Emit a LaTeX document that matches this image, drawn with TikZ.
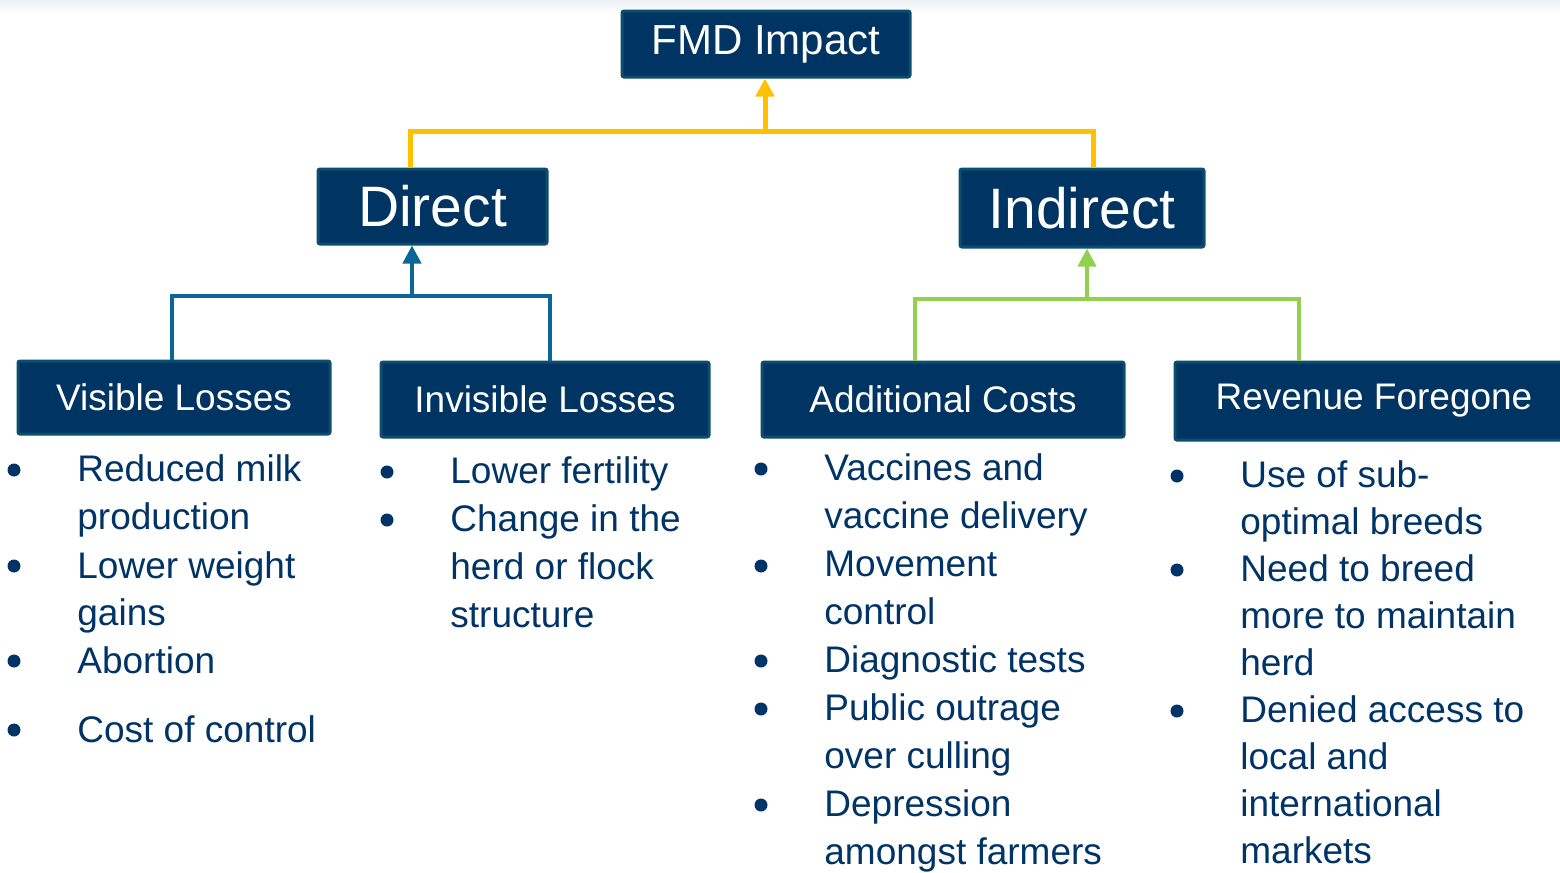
\documentclass[tikz,border=0pt]{standalone}
\usepackage{fontspec}
\setmainfont{Liberation Sans}
\usetikzlibrary{arrows.meta}
\definecolor{boxfill}{HTML}{003462}
\definecolor{boxedge}{HTML}{0B4E6E}
\definecolor{navytext}{HTML}{003366}
\definecolor{yel}{HTML}{FFC000}
\definecolor{blu}{HTML}{0A6699}
\definecolor{grn}{HTML}{92D050}
\definecolor{topband}{HTML}{EEF2F6}
\tikzset{
  box/.style={draw=boxedge, fill=boxfill, line width=1.5pt, rounded corners=1pt,
    text=white, inner sep=0pt, font=\fontsize{18.5}{22}\selectfont},
  item/.style={anchor=base west, inner sep=0pt, text=navytext, font=\fontsize{18.5}{24}\selectfont},
  bul/.style={circle, fill=navytext, inner sep=0pt, minimum size=6.5pt},
  conn/.style={line width=#1, line cap=butt, line join=miter},
  tip/.style={-{Triangle[width=9pt,length=9pt]}}
}
\begin{document}
\begin{tikzpicture}[x=0.5pt,y=-0.5pt]
\useasboundingbox (0,0) rectangle (1560,873);
\shade[top color=topband, bottom color=white] (0,0) rectangle (1560,14);

% boxes
\node[box, minimum width=144pt, minimum height=33pt, font=\fontsize{21}{24}\selectfont] (fmd) at (766,44) {FMD Impact};
\node[box, minimum width=114.5pt, minimum height=37.5pt, font=\fontsize{28.5}{32}\selectfont] (direct) at (432.5,206.5) {Direct};
\node[box, minimum width=122pt, minimum height=39pt, font=\fontsize{28.5}{32}\selectfont] (indirect) at (1082,208) {Indirect};
\node[box, minimum width=156pt, minimum height=36.5pt] (visible) at (174,397.5) {Visible Losses};
\node[box, minimum width=164pt, minimum height=37.5pt] (invisible) at (545,399.5) {Invisible Losses};
\node[box, minimum width=181pt, minimum height=37.5pt] (addcost) at (943,399.5) {Additional Costs};
\node[box, minimum width=199pt, minimum height=39pt] (revenue) at (1374,401) {Revenue Foregone};

% connector junctions
\coordinate (yj) at (765,131);
\coordinate (bj) at (412,296);
\coordinate (gj) at (1087,299);

% yellow
\draw[yel, conn=2.5pt] ([xshift=-11.25pt]direct.north) |- (yj) -| ([xshift=5.5pt]indirect.north);
\draw[yel, conn=2.5pt, tip] (yj) -- (yj |- fmd.south);
% blue
\draw[blu, conn=2pt] ([xshift=-1pt]visible.north) |- (bj) -| ([xshift=2.5pt]invisible.north);
\draw[blu, conn=2pt, tip] (bj) -- (bj |- direct.south);
% green
\draw[grn, conn=2pt] ([xshift=-14pt]addcost.north) |- (gj) -| ([xshift=-37.5pt]revenue.north);
\draw[grn, conn=2pt, tip] (gj) -- (gj |- indirect.south);

% column 1
\foreach \t/\y [count=\i] in {Reduced milk/481, production/529, Lower weight/578, gains/625, Abortion/673, Cost of control/742}
  \node[item] (ca\i) at (77,\y) {\t};
\foreach \y [count=\i] in {470,566,661,730}
  \node[bul] (ba\i) at (14,\y) {};

% column 2
\foreach \t/\y [count=\i] in {Lower fertility/483, Change in the/531, herd or flock/579, structure/627}
  \node[item] (cb\i) at (450,\y) {\t};
\foreach \y [count=\i] in {472,520}
  \node[bul] (bb\i) at (387,\y) {};

% column 3
\foreach \t/\y [count=\i] in {Vaccines and/480, vaccine delivery/528, Movement/576, control/624, Diagnostic tests/672, Public outrage/720, over culling/768, Depression/816, amongst farmers/864}
  \node[item] (cc\i) at (824,\y) {\t};
\foreach \y [count=\i] in {469,566,661,709,805}
  \node[bul] (bc\i) at (761,\y) {};

% column 4
\foreach \t/\y [count=\i] in {Use of sub-/487, optimal breeds/534, Need to breed/581, more to maintain/628, herd/675, Denied access to/722, local and/769, international/816, markets/863}
  \node[item] (cd\i) at (1240,\y) {\t};
\foreach \y [count=\i] in {476,570,711}
  \node[bul] (bd\i) at (1177,\y) {};
\end{tikzpicture}
\end{document}
